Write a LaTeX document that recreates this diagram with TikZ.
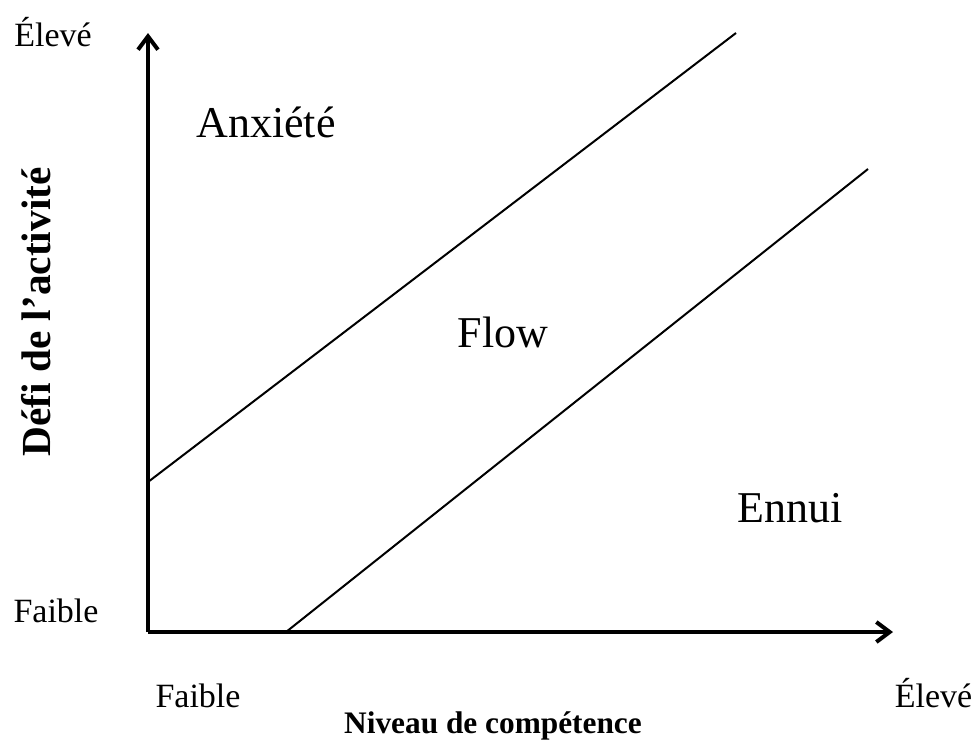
\documentclass[tikz,border=0pt]{standalone}
\usepackage{fontspec}
\setmainfont{Liberation Serif}
\usetikzlibrary{arrows.meta}

\tikzset{
  axis/.style={line width=3pt, -{Straight Barb[length=10pt,width=15pt,line width=3pt]}},
  band/.style={line width=1.5pt},
  small/.style={anchor=base, font=\fontsize{25.5}{28}\selectfont},
  zone/.style={anchor=base, font=\fontsize{33}{36}\selectfont}
}

\begin{document}
\begin{tikzpicture}[x=0.75pt,y=-0.75pt]
      \useasboundingbox (0,0) rectangle (977,740);

      \coordinate (O) at (148,632);
      \coordinate (ytip) at (148,33);
      \coordinate (xtip) at (893,632);

      \draw[axis] (O) -- (ytip);
      \draw[axis] (O) -- (xtip);


      \coordinate (hiA) at (148,482);
      \coordinate (hiB) at (736,33);
      \coordinate (loA) at (286,632);
      \coordinate (loB) at (868,169);

      \draw[band] (hiA) -- (hiB);
      \draw[band] (loA) -- (loB);


      \node[small] (yhigh) at (53,46) {Élevé};
      \node[small] (ylow) at (56,622) {Faible};
      \node[small] (xlow) at (198,707) {Faible};
      \node[small, anchor=base east] (xhigh) at (977,707) {Élevé};

      \node[zone] (anx) at (266,137) {Anxiété};
      \node[zone] (flow) at (503,347) {Flow};
      \node[zone] (ennui) at (790,522) {Ennui};


      \node[anchor=base, font=\fontsize{23.5}{26}\bfseries] (xlabel) at (493,733)
        {Niveau de compétence};
      \node[anchor=base, rotate=90, font=\fontsize{31}{34}\bfseries] (ylabel)
        at (50,312) {Défi de l’activité};
    \end{tikzpicture}
\end{document}
